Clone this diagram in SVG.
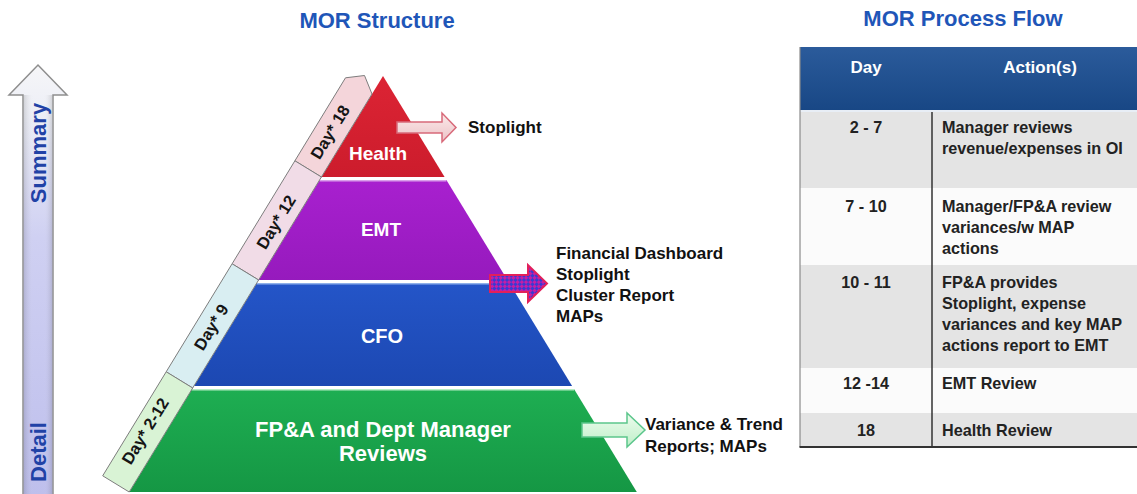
<svg xmlns="http://www.w3.org/2000/svg" width="1137" height="494" viewBox="0 0 1137 494">
  <defs>
    <style>
      text { font-family: "Liberation Sans", Arial, sans-serif; font-weight: bold; }
      .title { font-size: 22px; fill: #1f56b8; text-anchor: middle; }
      .layer { font-size: 19px; fill: #ffffff; text-anchor: middle; }
      .tab { stroke: #7d7d7d; stroke-width: 1; }
      .tabtxt { font-size: 16.5px; fill: #151515; text-anchor: middle; dominant-baseline: central; }
      .out { font-size: 17px; fill: #111111; }
      .th { font-size: 17px; fill: #ffffff; text-anchor: middle; }
      .td { font-size: 16.2px; fill: #222222; }
      .tdc { font-size: 16.2px; fill: #222222; text-anchor: middle; }
      .axis { font-size: 22px; fill: #2142a6; text-anchor: middle; dominant-baseline: central; }
    </style>
    <linearGradient id="gHealth" x1="0" y1="0" x2="0" y2="1">
      <stop offset="0" stop-color="#dc2434"/>
      <stop offset="1" stop-color="#cc1c2c"/>
    </linearGradient>
    <linearGradient id="gEmt" x1="0" y1="0" x2="0" y2="1">
      <stop offset="0" stop-color="#a820cf"/>
      <stop offset="1" stop-color="#961abd"/>
    </linearGradient>
    <linearGradient id="gCfo" x1="0" y1="0" x2="0" y2="1">
      <stop offset="0" stop-color="#2455c8"/>
      <stop offset="1" stop-color="#1c48b2"/>
    </linearGradient>
    <linearGradient id="gFpa" x1="0" y1="0" x2="0" y2="1">
      <stop offset="0" stop-color="#1eae52"/>
      <stop offset="1" stop-color="#159744"/>
    </linearGradient>
    <linearGradient id="gAxis" x1="0" y1="0" x2="0" y2="1">
      <stop offset="0" stop-color="#f6f6f8"/>
      <stop offset="0.12" stop-color="#eceef6"/>
      <stop offset="0.4" stop-color="#cfd0f2"/>
      <stop offset="1" stop-color="#bebfec"/>
    </linearGradient>
    <linearGradient id="gAxisSide" x1="0" y1="0" x2="1" y2="0">
      <stop offset="0" stop-color="#000000" stop-opacity="0.12"/>
      <stop offset="0.35" stop-color="#ffffff" stop-opacity="0"/>
      <stop offset="0.7" stop-color="#ffffff" stop-opacity="0"/>
      <stop offset="1" stop-color="#000000" stop-opacity="0.12"/>
    </linearGradient>
    <linearGradient id="gPinkArrow" x1="0" y1="0" x2="0" y2="1">
      <stop offset="0" stop-color="#fbeaea"/>
      <stop offset="1" stop-color="#ecc2c6"/>
    </linearGradient>
    <linearGradient id="gGreenArrow" x1="0" y1="0" x2="0" y2="1">
      <stop offset="0" stop-color="#eefcee"/>
      <stop offset="1" stop-color="#bdefc8"/>
    </linearGradient>
    <linearGradient id="gHead" x1="0" y1="0" x2="0" y2="1">
      <stop offset="0" stop-color="#2b5b9b"/>
      <stop offset="1" stop-color="#184785"/>
    </linearGradient>
    <pattern id="pCheck" width="6" height="6" patternUnits="userSpaceOnUse" patternTransform="rotate(45)">
      <rect width="6" height="6" fill="#3b3ad2"/>
      <rect width="3" height="3" fill="#c41ea6"/>
      <rect x="3" y="3" width="3" height="3" fill="#c41ea6"/>
    </pattern>
  </defs>

  <rect width="1137" height="494" fill="#ffffff"/>

  <!-- headings -->
  <text class="title" x="377" y="28">MOR Structure</text>
  <text class="title" x="963" y="26">MOR Process Flow</text>

  <!-- vertical Summary / Detail axis arrow -->
  <g id="axis">
    <path d="M23,496 V95 H9 L38,65 L67,95 H53 V496 Z" fill="url(#gAxis)" stroke="#8e8e8e" stroke-width="1.5"/>
    <rect x="24" y="95" width="28" height="400" fill="url(#gAxisSide)"/>
    <text class="axis" transform="translate(38,153) rotate(-90)">Summary</text>
    <text class="axis" transform="translate(38,452) rotate(-90)">Detail</text>
  </g>

  <!-- pyramid layers -->
  <g id="layer-health">
    <polygon points="383,76 444.6,177 321.4,177" fill="url(#gHealth)"/>
    <text class="layer" x="378" y="160">Health</text>
  </g>
  <g id="layer-emt">
    <polygon points="319.6,180 446.4,180 507.4,280 258.6,280" fill="url(#gEmt)"/>
    <line x1="319.6" y1="180.8" x2="446.4" y2="180.8" stroke="#d9a0ea" stroke-width="1.6"/>
    <text class="layer" x="381" y="236">EMT</text>
  </g>
  <g id="layer-cfo">
    <polygon points="256.7,283 509.3,283 572.1,386 193.9,386" fill="url(#gCfo)"/>
    <line x1="256.7" y1="283.8" x2="509.3" y2="283.8" stroke="#8fb0ea" stroke-width="1.6"/>
    <text class="layer" x="382" y="343" style="font-size:20px">CFO</text>
  </g>
  <g id="layer-fpa">
    <polygon points="192,389 574,389 636.8,492 129.2,492" fill="url(#gFpa)"/>
    <line x1="192" y1="389.8" x2="574" y2="389.8" stroke="#b6ecc4" stroke-width="1.6"/>
    <text class="layer" x="383" y="437" style="font-size:22px">FP&amp;A and Dept Manager</text>
    <text class="layer" x="383" y="461" style="font-size:22px">Reviews</text>
  </g>

  <!-- day tabs along the left slope -->
  <g id="tab-day18">
    <polygon class="tab" points="345.5,77.8 364.5,75.5 372,94 321.4,177 294.9,160.8" fill="#f4d5da"/>
    <text class="tabtxt" transform="translate(330,132) rotate(-58.6)">Day* 18</text>
  </g>
  <g id="tab-day12">
    <polygon class="tab" points="294.9,160.8 321.4,177 258.6,280 232.1,263.8" fill="#f1dce7"/>
    <text class="tabtxt" transform="translate(276,222) rotate(-58.6)">Day* 12</text>
  </g>
  <g id="tab-day9">
    <polygon class="tab" points="232.1,263.8 258.6,280 192.7,388 166.2,371.8" fill="#d9eef2"/>
    <text class="tabtxt" transform="translate(211,327) rotate(-58.6)">Day* 9</text>
  </g>
  <g id="tab-day2-12">
    <polygon class="tab" points="166.2,371.8 192.7,388 129.2,492 102.7,475.8" fill="#d9f3d5"/>
    <text class="tabtxt" transform="translate(145,431) rotate(-58.6)">Day* 2-12</text>
  </g>

  <!-- output arrows -->
  <g id="connectors">
    <path d="M397,122 H442 V113 L456,127.5 L442,142 V133 H397 Z" fill="url(#gPinkArrow)" stroke="#d86a7a" stroke-width="1.5"/>
    <path d="M490,275 H528 V265 L547,283.5 L528,302 V292 H490 Z" fill="url(#pCheck)" stroke="#e2205a" stroke-width="2"/>
    <path d="M582,423 H627 V413 L645,430 L627,447 V437 H582 Z" fill="url(#gGreenArrow)" stroke="#5cc68c" stroke-width="1.5"/>
  </g>

  <!-- outputs -->
  <g id="out-health">
    <text class="out" x="468" y="133">Stoplight</text>
  </g>
  <g id="out-emt">
    <text class="out" x="556" y="259">Financial Dashboard</text>
    <text class="out" x="556" y="280">Stoplight</text>
    <text class="out" x="556" y="301">Cluster Report</text>
    <text class="out" x="556" y="322">MAPs</text>
  </g>
  <g id="out-fpa">
    <text class="out" x="645" y="430">Variance &amp; Trend</text>
    <text class="out" x="645" y="452">Reports; MAPs</text>
  </g>

  <!-- process flow table -->
  <g id="flow-table">
    <rect x="800" y="47" width="345" height="63" fill="url(#gHead)"/>
    <rect x="800" y="110" width="345" height="2" fill="#e8eef6"/>
    <rect x="800" y="112" width="345" height="76" fill="#e4e4e4"/>
    <rect x="800" y="188" width="345" height="77" fill="#fbfbfb"/>
    <rect x="800" y="265" width="345" height="103" fill="#e4e4e4"/>
    <rect x="800" y="368" width="345" height="45" fill="#fbfbfb"/>
    <rect x="800" y="413" width="345" height="34" fill="#e4e4e4"/>
    <line x1="800" y1="47" x2="800" y2="447" stroke="#8a8a8a" stroke-width="1.2"/>
    <line x1="932" y1="112" x2="932" y2="447" stroke="#333333" stroke-width="1.5"/>
    <line x1="799.5" y1="447" x2="1137" y2="447" stroke="#333333" stroke-width="2"/>

    <text class="th" x="866" y="73">Day</text>
    <text class="th" x="1040" y="73">Action(s)</text>

    <text class="tdc" x="866" y="133">2 - 7</text>
    <text class="td" x="942" y="133">Manager reviews</text>
    <text class="td" x="942" y="154">revenue/expenses in OI</text>

    <text class="tdc" x="866" y="212">7 - 10</text>
    <text class="td" x="942" y="212">Manager/FP&amp;A review</text>
    <text class="td" x="942" y="233">variances/w MAP</text>
    <text class="td" x="942" y="254">actions</text>

    <text class="tdc" x="866" y="288">10 - 11</text>
    <text class="td" x="942" y="288">FP&amp;A provides</text>
    <text class="td" x="942" y="309">Stoplight, expense</text>
    <text class="td" x="942" y="330">variances and key MAP</text>
    <text class="td" x="942" y="351">actions report to EMT</text>

    <text class="tdc" x="866" y="389">12 -14</text>
    <text class="td" x="942" y="389">EMT Review</text>

    <text class="tdc" x="866" y="436">18</text>
    <text class="td" x="942" y="436">Health Review</text>
  </g>
</svg>
